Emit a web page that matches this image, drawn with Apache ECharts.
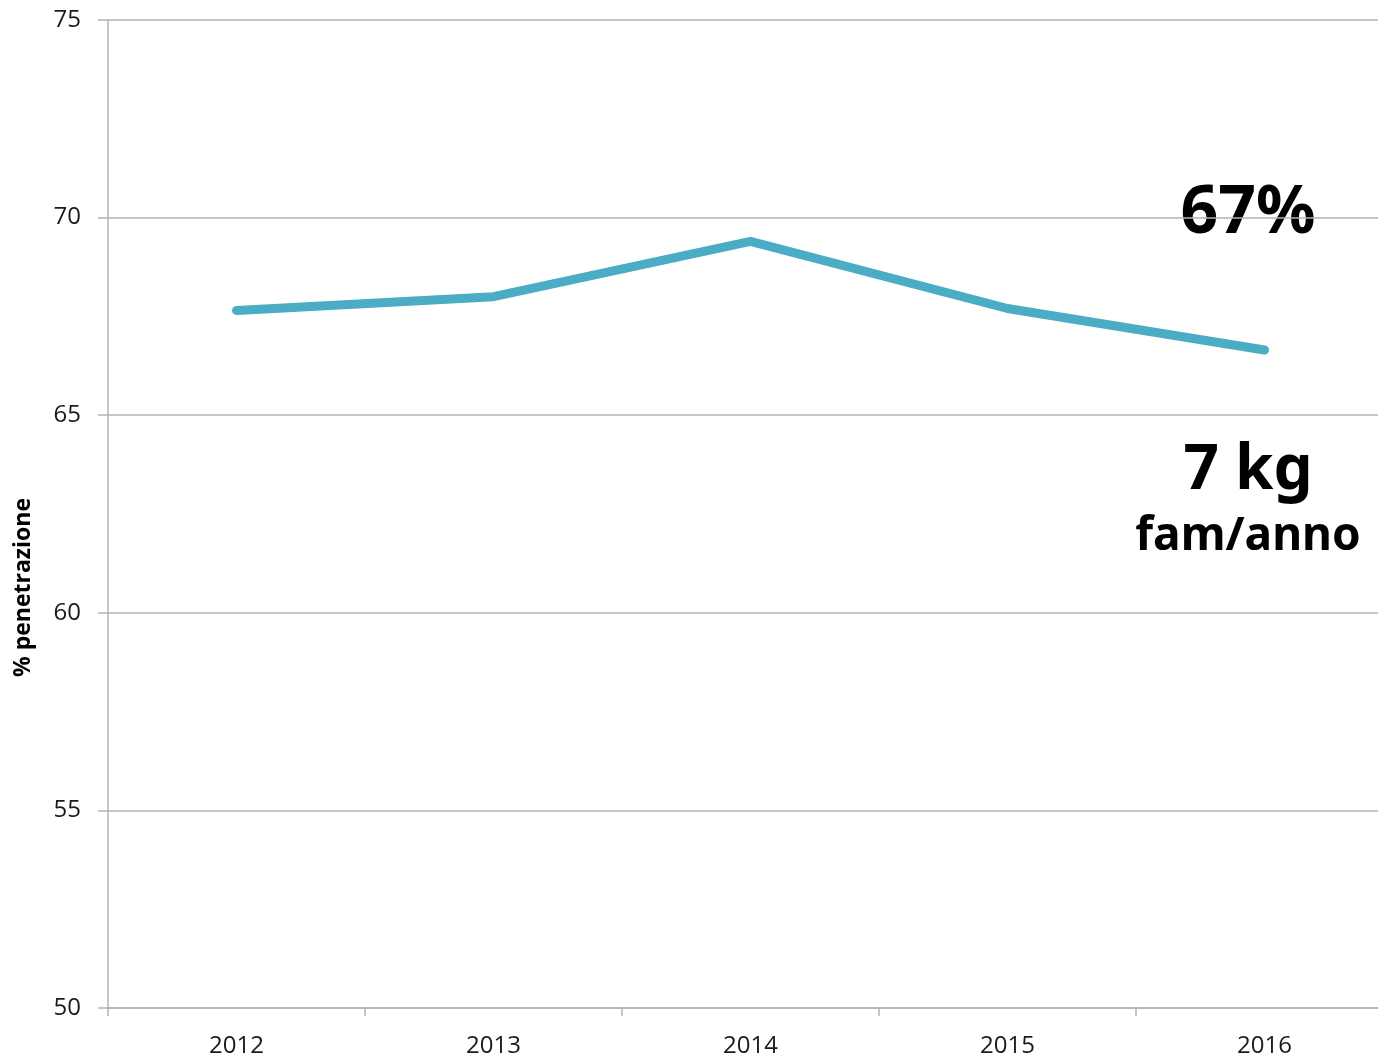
<!DOCTYPE html>
<html>
<head>
<meta charset="utf-8">
<script src="https://cdn.jsdelivr.net/npm/echarts@6/dist/echarts.min.js"></script>
<style>
html,body{margin:0;padding:0;background:#fff;overflow:hidden;width:1378px;height:1059px;}
#chart{width:1393px;height:1059px;}
</style>
</head>
<body>
<div id="chart"></div>
<script>
var anni = ['2012', '2013', '2014', '2015', '2016'];
var penetrazione = [67.65, 68.0, 69.4, 67.7, 66.65];
var yTicks = [50, 55, 60, 65, 70, 75];

// il grafico originale esce a destra del riquadro: div piu largo della finestra
var chart = echarts.init(document.getElementById('chart'));
var option = {
    animation: false,
    grid: {
        left: 108,
        right: 0,
        top: 20,
        bottom: 51
    },
    xAxis: {
        type: 'category',
        data: anni,
        axisLine: { lineStyle: { color: '#b3b3b3', width: 1.5 } },
        axisTick: { show: true, length: 8, lineStyle: { color: '#b3b3b3', width: 1.5 } },
        axisLabel: {
            margin: 26,
            color: '#1a1a1a',
            fontSize: 24,
            fontFamily: 'Open Sans'
        }
    },
    yAxis: {
        type: 'value',
        min: yTicks[0],
        max: yTicks[yTicks.length - 1],
        interval: 5,
        axisLine: { show: true, lineStyle: { color: '#b3b3b3', width: 1.5 } },
        axisTick: { show: true, length: 10, lineStyle: { color: '#b3b3b3', width: 1.5 } },
        splitLine: { lineStyle: { color: '#b3b3b3', width: 1.5 } },
        axisLabel: {
            margin: 27,
            color: '#1a1a1a',
            fontSize: 24,
            fontFamily: 'Open Sans'
        }
    },
    graphic: [
        {
            type: 'text',
            left: 12, top: 498,
            rotation: Math.PI / 2,
            originX: 0, originY: 0,
            style: {
                text: '% penetrazione',
                fill: '#000',
                font: 'bold 23px "Open Sans"'
            }
        },
        {
            type: 'text',
            x: 1248, y: 214,
            style: {
                text: '67%',
                fill: '#000',
                font: 'bold 66px "Noto Sans"',
                align: 'center',
                verticalAlign: 'middle'
            }
        },
        {
            type: 'text',
            x: 1248, y: 471,
            style: {
                text: '7 kg',
                fill: '#000',
                font: 'bold 62px "Noto Sans"',
                align: 'center',
                verticalAlign: 'middle'
            }
        },
        {
            type: 'text',
            x: 1248, y: 537,
            style: {
                text: 'fam/anno',
                fill: '#000',
                font: 'bold 46px "Noto Sans"',
                align: 'center',
                verticalAlign: 'middle'
            }
        }
    ],
    series: [{
        type: 'line',
        data: penetrazione,
        symbol: 'none',
        lineStyle: {
            color: '#4bacc6',
            width: 9,
            cap: 'round',
            join: 'round'
        }
    }]
};
chart.setOption(option);
</script>
</body>
</html>
